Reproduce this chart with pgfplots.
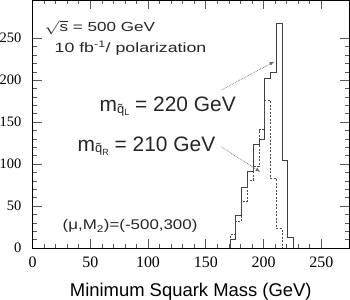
\documentclass[border=0pt]{standalone}
\usepackage{fontspec}
\setmainfont{Liberation Sans}
\newfontfamily\tickfont{Liberation Serif}
\usepackage{graphicx}
\usepackage{pgfplots}
\pgfplotsset{compat=1.18}
\usetikzlibrary{arrows.meta}
\begin{document}
\begin{tikzpicture}
\begin{axis}[
  name=ax,
  scale only axis,
  width=316.5bp, height=248bp,
  xmin=0, xmax=274, ymin=0, ymax=295.6,
  xtick={0,50,...,250}, ytick={0,50,...,250},
  minor x tick num=4, minor y tick num=4,
  tick align=inside,
  major tick length=9bp, minor tick length=4.5bp,
  every tick/.style={black!65, line width=0.6bp},
  axis line style={black, line width=0.8bp},
  /pgf/number format/assume math mode=true,
  xticklabel style={font=\tickfont\fontsize{16}{16}\selectfont, inner sep=0pt, anchor=north, yshift=-8.5bp},
  yticklabel style={font=\tickfont\fontsize{14.5}{14.5}\selectfont, inner sep=0pt, anchor=east, xshift=-11bp},
  xlabel={Minimum Squark Mass (GeV)},
  xlabel style={font=\fontsize{18.5}{18.5}\selectfont, at={(axis description cs:0.5,0)}, anchor=base, yshift=-48.5bp},
  clip=false,
]
% solid: m(q_L) = 220 GeV
\addplot[const plot, black!75, line width=0.8bp] coordinates {
  (171,0) (171,10) (176,39) (181,72) (186,91) (191,123) (196,130)
  (201,202) (206,209) (211,268) (216,105) (221,13) (226,0)
};
% dashed: m(q_R) = 210 GeV
\addplot[const plot, black!70, line width=0.7bp, dash pattern=on 2bp off 1.5bp] coordinates {
  (171,0) (171,16) (176,32) (181,56) (186,81) (191,97) (196,141)
  (201,176) (206,83) (211,23) (216,0)
};

\node[anchor=base west, inner sep=0pt, text=black!85] at (axis cs:10.4,257.5)
  {\fontsize{16.5}{16.5}\selectfont\scalebox{1.04}[0.8]{$\sqrt{\mbox{s}}$ = 500 GeV}};
\node[anchor=base west, inner sep=0pt, text=black!85] at (axis cs:19,232.8)
  {\fontsize{16.5}{16.5}\selectfont\scalebox{1.08}[0.82]{10 fb\textsuperscript{-1}/ polarization}};
\node[anchor=base west, inner sep=0pt, text=black!85] at (axis cs:58,162.5)
  {\fontsize{21}{21}\selectfont m\raisebox{-1.5bp}{\fontsize{13}{13}\selectfont\~{q}\raisebox{-2.5bp}{\fontsize{9}{9}\selectfont L}} = 220 GeV};
\node[anchor=base west, inner sep=0pt, text=black!85] at (axis cs:39,115.6)
  {\fontsize{21}{21}\selectfont m\raisebox{-1.5bp}{\fontsize{13}{13}\selectfont\~{q}\raisebox{-2.5bp}{\fontsize{9}{9}\selectfont R}} = 210 GeV};
\node[anchor=base west, inner sep=0pt, text=black!85] at (axis cs:26,21.5)
  {\fontsize{16}{16}\selectfont\scalebox{1.06}[0.88]{(μ,M\textsubscript{2})=(-500,300)}};

\draw[densely dotted, black!60, line width=0.7bp, -{Latex[length=5bp,width=3.5bp]}]
  (axis cs:163.6,188.4) -- (axis cs:209.5,222.3);
\draw[densely dotted, black!60, line width=0.7bp, -{Latex[length=5bp,width=3.5bp]}]
  (axis cs:163.6,120.4) -- (axis cs:197.4,90.6);
\end{axis}
\pgfresetboundingbox
\path[use as bounding box] ([shift={(-32.5bp,-52bp)}]ax.south west) rectangle ([shift={(1bp,0bp)}]ax.north east);
\end{tikzpicture}
\end{document}
